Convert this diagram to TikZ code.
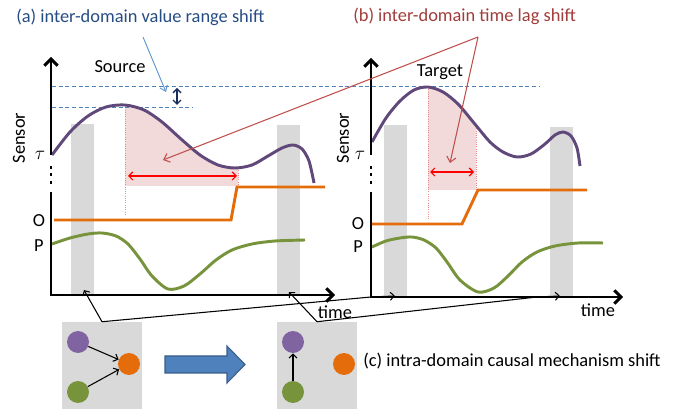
\documentclass[tikz,border=0pt]{standalone}
\usepackage{fontspec}
\setmainfont{Carlito}
\usepackage{tikz}
\usetikzlibrary{
	arrows.meta,
	positioning,
	calc,
}
\definecolor{barGray}{RGB}{217,217,217}
\definecolor{lagPink}{RGB}{242,218,218}
\definecolor{lagDot}{RGB}{232,140,140}
\definecolor{sigPurple}{RGB}{96,73,122}
\definecolor{sigOrange}{RGB}{228,108,10}
\definecolor{sigGreen}{RGB}{119,147,60}
\definecolor{dotPurple}{RGB}{128,100,162}
\definecolor{titleBlue}{RGB}{38,76,132}
\definecolor{titleRed}{RGB}{160,60,58}
\definecolor{lagRed}{RGB}{192,80,77}
\definecolor{rangeBlue}{RGB}{79,129,189}
\definecolor{pointBlue}{RGB}{95,150,210}
\definecolor{navyBlue}{RGB}{22,45,95}
\definecolor{blockFill}{RGB}{79,129,189}
\definecolor{blockLine}{RGB}{56,93,138}
\tikzset{causalbox/.style={
		% The shape:
		rectangle,
		% The size:
		minimum width=60pt,
		minimum height=65.25pt,
		% The fill:
		fill=barGray,
		draw=none,
}}
\tikzset{causaldot/.style={
		circle,
		minimum size=16.5pt,
		inner sep=0pt,
		draw=none,
}}

\begin{document}
\begin{tikzpicture}[
	x=0.75pt, y=-0.75pt,
	font=\fontsize{13.8}{16}\selectfont,
	text=black,
	inner sep=0pt,
	axis/.style={line width=2.2pt, black, line join=miter},
	signal/.style={line width=2.2pt},
	link/.style={line width=0.8pt, black, -{Straight Barb[length=3pt,width=6pt]}},
	lagline/.style={lagDot, densely dotted, line width=0.7pt},
	rangeline/.style={rangeBlue, densely dashed, line width=0.6pt},
	]
	
	\useasboundingbox (0,0) rectangle (689,409);
	
	%% gray time windows
	\fill[barGray] (71,124) rectangle (94,295);
	\fill[barGray] (277,125) rectangle (300,295);
	\fill[barGray] (384,125) rectangle (407,297);
	\fill[barGray] (550,127) rectangle (573,297);
	
	%% shaded lags
	\begin{scope}
		\clip (125,0) rectangle (238,186);
		\fill[lagPink] plot[smooth] coordinates {(52,155) (70,132) (88,116) (106,107) (125,105) (144,110) (162,122) (181,139) (200,155) (218,165) (235,168) (252,165) (268,156) (282,148) (293,145) (302,149) (309,161) (314,183)} -- (314,186) -- (52,186) -- cycle;
	\end{scope}
	\begin{scope}
		\clip (428,0) rectangle (476,190);
		\fill[lagPink] plot[smooth] coordinates {(372,142) (386,118) (400,101) (414,90) (428,87) (443,92) (458,104) (474,123) (490,142) (503,152) (517,157) (531,154) (545,144) (555,135) (563,132) (571,136) (577,148) (580,166)} -- (580,190) -- (372,190) -- cycle;
	\end{scope}
	\draw[lagline] (125,105) -- (125,215);
	\draw[lagline] (238,168) -- (238,186);
	\draw[lagline] (428,87) -- (428,220);
	\draw[lagline] (476,126) -- (476,190);
	
	%% value range guides
	\draw[rangeline] (52,86) -- (540,86);
	\draw[rangeline] (52,107) -- (193,107);
	
	%% signals, source
	\draw[signal,sigPurple] plot[smooth] coordinates {(52,155) (70,132) (88,116) (106,107) (125,105) (144,110) (162,122) (181,139) (200,155) (218,165) (235,168) (252,165) (268,156) (282,148) (293,145) (302,149) (309,161) (314,183)};
	\draw[signal,sigOrange] (54,220) -- (231,220) -- (237,187) -- (325,187);
	\draw[signal,sigGreen] plot[smooth] coordinates {(52,244) (70,238) (88,234) (102,233) (116,236) (128,244) (140,259) (152,276) (168,289) (184,286) (200,274) (216,260) (232,250) (252,244) (275,241) (305,240)};
	
	%% signals, target
	\draw[signal,sigPurple] plot[smooth] coordinates {(372,142) (386,118) (400,101) (414,90) (428,87) (443,92) (458,104) (474,123) (490,142) (503,152) (517,157) (531,154) (545,144) (555,135) (563,132) (571,136) (577,148) (580,166)};
	\draw[signal,sigOrange] (372,224) -- (462,224) -- (478,190) -- (587,190);
	\draw[signal,sigGreen] plot[smooth] coordinates {(372,247) (386,241) (400,238) (412,237) (424,240) (436,248) (447,262) (460,280) (478,292) (494,288) (508,276) (522,262) (537,252) (555,246) (578,243) (603,243)};
	
	%% axes
	\draw[axis,-{Straight Barb[length=5pt,width=10pt]}] (51,155) -- (51,57);
	\draw[axis,dash pattern=on 2.2pt off 3.3pt] (51,166) -- (51,186);
	\draw[axis,-{Straight Barb[length=5pt,width=10pt]}] (51,192) -- (51,295) -- (335,295);
	\draw[axis,-{Straight Barb[length=5pt,width=10pt]}] (371,155) -- (371,58);
	\draw[axis,dash pattern=on 2.2pt off 3.3pt] (371,166) -- (371,186);
	\draw[axis,-{Straight Barb[length=5pt,width=10pt]}] (371,192) -- (371,297) -- (623,297);
	
	%% axis labels
	\node (sensorA) [rotate=90] at (19,138) {Sensor};
	\node (tauA) at (40,155) {$\tau$};
	\node (oA) at (39,221) {O};
	\node (pA) at (39,246) {P};
	\node (timeA) at (335,312) {time};
	\node (sensorB) [rotate=90] at (343,138) {Sensor};
	\node (tauB) at (360,155) {$\tau$};
	\node (oB) at (358,224) {O};
	\node (pB) at (358,247) {P};
	\node (timeB) at (598,310) {time};
	\node (source) at (120,67) {Source};
	\node (target) at (440,72) {Target};
	
	%% titles
	\node (titleA) [anchor=west,text=titleBlue] at (16,17) {(a) inter-domain value range shift};
	\node (titleB) [anchor=west,text=titleRed] at (353,16) {(b) inter-domain time lag shift};
	\node (titleC) [anchor=west] at (363,361) {(c) intra-domain causal mechanism shift};
	
	%% value range shift
	\coordinate (rangeTop) at (177,88);
	\coordinate (rangeLow) at (177,105);
	\draw[navyBlue,line width=1pt,{Straight Barb[length=3pt,width=6pt]}-{Straight Barb[length=3pt,width=6pt]}] (rangeTop) -- (rangeLow);
	\coordinate (aTail) at (143,37);
	\coordinate (aHead) at (166,92);
	\draw[pointBlue,line width=0.7pt,-{Straight Barb[length=4pt,width=6pt]}] (aTail) -- (aHead);
	
	%% time lag shift
	\coordinate (lagA1) at (128,176);
	\coordinate (lagA2) at (237,176);
	\coordinate (lagB1) at (430,172);
	\coordinate (lagB2) at (474,172);
	\draw[red,line width=0.9pt,{Straight Barb[length=3pt,width=6pt]}-{Straight Barb[length=3pt,width=6pt]}] (lagA1) -- (lagA2);
	\draw[red,line width=0.9pt,{Straight Barb[length=3pt,width=6pt]}-{Straight Barb[length=3pt,width=6pt]}] (lagB1) -- (lagB2);
	\coordinate (bApex) at (478,37);
	\coordinate (bHeadA) at (163,160);
	\coordinate (bHeadB) at (450,163);
	\draw[lagRed,line width=0.8pt,-{Straight Barb[length=4pt,width=7pt]}] (bApex) -- (bHeadA);
	\draw[lagRed,line width=0.8pt,-{Straight Barb[length=4pt,width=7pt]}] (bApex) -- (bHeadB);
	
	%% causal graphs
	\node (boxA) [causalbox] at (102,365.5) {};
	\node (purA) [causaldot,fill=dotPurple] at (78,342) {};
	\node (oraA) [causaldot,fill=sigOrange] at (129,364) {};
	\node (greA) [causaldot,fill=sigGreen] at (78,392) {};
	\draw[link] (purA) -- (oraA);
	\draw[link] (greA) -- (oraA);
	
	\node (boxB) [causalbox] at (317,365.5) {};
	\node (purB) [causaldot,fill=dotPurple] at (293,342) {};
	\node (oraB) [causaldot,fill=sigOrange] at (344,364) {};
	\node (greB) [causaldot,fill=sigGreen] at (293,392) {};
	\draw[link] (greB) -- (purB);
	
	%% mechanism shift arrow
	\draw[fill=blockFill,draw=blockLine,line width=0.8pt] (165,356) -- (227,356) -- (227,346) -- (245,364.5) -- (227,383) -- (227,373) -- (165,373) -- cycle;
	
	%% windows to graphs
	\coordinate (hitA) at (84,290);
	\coordinate (originB) at (371,297);
	\coordinate (hitB) at (395,296);
	\coordinate (hitC) at (289,292);
	\coordinate (bendD) at (537,297);
	\coordinate (hitD) at (560,296);
	\draw[link] (boxA.north) -- (hitA);
	\draw[link] (boxA.north) -- (originB) -- (hitB);
	\draw[link] (boxB.north) -- (hitC);
	\draw[link] (boxB.north) -- (bendD) -- (hitD);
	
\end{tikzpicture}
\end{document}
